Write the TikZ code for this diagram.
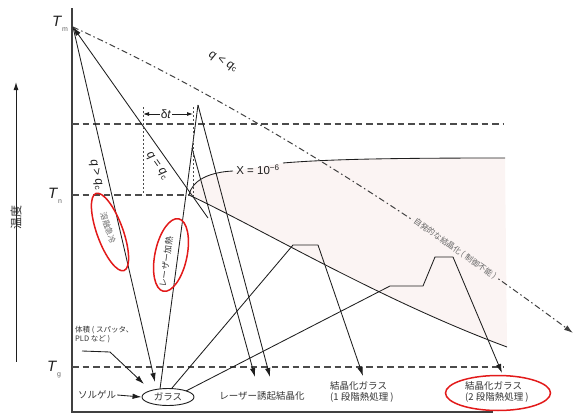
\documentclass[tikz,border=0pt]{standalone}
\usepackage{fontspec}
\setmainfont{Liberation Sans}
\newfontfamily\jp{Noto Sans CJK JP}
\usetikzlibrary{arrows.meta,shapes.geometric}
\definecolor{pinkbg}{HTML}{FBF4F3}
\definecolor{ink}{HTML}{1E1E1E}
\definecolor{txt}{HTML}{333333}
\definecolor{redc}{HTML}{E21A1A}
\begin{document}
\begin{tikzpicture}[x=1pt,y=-1pt,
 ln/.style={line width=0.85pt,draw=ink},
 ar/.style={ln,-{Latex[length=9pt,width=5.5pt]}},
 dsh/.style={line width=1.1pt,draw=ink!80,dash pattern=on 6.5pt off 4pt},
 dtl/.style={line width=0.9pt,draw=ink!80,dash pattern=on 2pt off 2pt},
 ddot/.style={line width=1pt,draw=ink!85,dash pattern=on 6pt off 3pt on 1.5pt off 3pt},
 jp/.style={font=\jp\fontsize{9.5}{11.5}\selectfont,text=txt,inner sep=1pt},
 jps/.style={font=\jp\fontsize{7.5}{9}\selectfont,text=txt,inner sep=1pt},
 jpg/.style={font=\jp\fontsize{8}{9}\selectfont,text=black!60,inner sep=1pt},
 lab/.style={font=\fontsize{12}{14}\selectfont,text=ink,inner sep=1pt},
 tl/.style={font=\fontsize{15}{15}\selectfont,text=ink,inner sep=0pt},
 redring/.style={draw=redc,line width=1.5pt,ellipse,inner sep=0pt},
]
\useasboundingbox (0,0) rectangle (576,415);

% shaded crystallization region
\fill[pinkbg] (189,195) .. controls (192,180) and (210,172) .. (233,171) -- (283,163)
  .. controls (330,159) and (400,158) .. (505,158) -- (507,347)
  .. controls (380,300) and (260,228) .. (189,195) -- cycle;

% axes
\draw[line width=1.1pt,draw=ink!85] (72,8) -- (72,412) -- (493,412);

% temperature arrow
\node[font=\jp\fontsize{12}{12}\selectfont,text=txt,rotate=90,inner sep=0pt] (temp) at (16,217) {温度};
\coordinate (ta) at (16,82);
\coordinate (tb) at (16,362);
\draw[line width=1pt,draw=ink,-{Latex[length=8pt,width=5pt]}] ([yshift=-25pt]temp.east) -- (ta);
\draw[line width=1pt,draw=ink] ([yshift=25pt]temp.west) -- (tb);

% temperature labels
\node[tl] (Tm) at (60,24) {\textit{T}\raisebox{-5pt}{\fontsize{7}{7}\selectfont\color{black!60}m}};
\node[tl] (Tn) at (55,196) {\textit{T}\raisebox{-5pt}{\fontsize{7}{7}\selectfont\color{black!60}n}};
\node[tl] (Tg) at (54,370) {\textit{T}\raisebox{-5pt}{\fontsize{7}{7}\selectfont\color{black!60}g}};

% dashed levels
\coordinate (u0) at (72,124); \coordinate (u1) at (503,124);
\coordinate (n0) at (72,195); \coordinate (n1) at (188,195);
\coordinate (g0) at (72,367); \coordinate (g1) at (504,367);
\draw[dsh] (u0) -- (u1);
\draw[dsh] (n0) -- (n1);
\draw[dsh] (g0) -- (g1);

% X = 10^-6 curve
\coordinate (nose) at (189,195);
\draw[ln] (nose) .. controls (192,180) and (210,172) .. (233,171);
\draw[ln] (283,163) .. controls (330,159) and (400,158) .. (505,158);
\draw[ln] (nose) .. controls (260,228) and (380,300) .. (507,347);
\node[lab,font=\fontsize{11.5}{13}\selectfont] (X) at (258,170) {X = 10\textsuperscript{−6}};

% points
\coordinate (tm) at (73,27);
\node[draw=ink,ellipse,line width=0.9pt,minimum width=52pt,minimum height=17pt,inner sep=0pt,jp] (glass) at (168,397) {ガラス};
\coordinate (gin) at (155,382);
\coordinate (gl) at (160,389);
\coordinate (g1s) at (172,388);
\coordinate (g2s) at (186,391);
\coordinate (P) at (198,105);
\coordinate (P2) at (192,148);
\coordinate (qe) at (208,218);

% dash-dot spontaneous crystallization
\coordinate (sp) at (573,333);
\draw[ddot,-{Latex[length=9pt,width=5.5pt]}] (tm) .. controls (225,97) and (392,199) .. (sp);
\node[jpg,rotate=-35,fill=pinkbg,inner sep=1.5pt] (spl) at (455,249) {自発的な結晶化 ( 制御不能 )};
\node[lab,rotate=-28] (qlt) at (223,62) {\textit{q} < \textit{q}\textsubscript{c}};

% melt quench
\draw[ar] (tm) -- (gin);
\node[lab,rotate=-77] (qgt) at (96,175) {\textit{q} > \textit{q}\textsubscript{c}};
\draw[ln,{Latex[length=9pt,width=5.5pt]}-] (tm) -- (qe);
\node[lab,rotate=-55] (qeq) at (157,166) {\textit{q} = \textit{q}\textsubscript{c}};

% laser heating
\coordinate (la) at (255,377);
\coordinate (lb) at (270,377);
\draw[ln] (gl) -- (P);
\draw[ar] (P) -- (lb);
\draw[ar] (P2) -- (la);

% delta t
\coordinate (d0) at (143,107); \coordinate (d0b) at (143,195);
\coordinate (d1) at (193,107); \coordinate (d1b) at (193,197);
\draw[dtl] (d0) -- (d0b);
\draw[dtl] (d1) -- (d1b);
\node[lab] (dt) at (166,114) {δ\textit{t}};
\draw[ln,line width=0.8pt,-{Latex[length=6pt,width=4pt]}] (dt.west) -- (143,114);
\draw[ln,line width=0.8pt,-{Latex[length=6pt,width=4pt]}] (dt.east) -- (193,114);

% one-step heat treatment
\coordinate (a1) at (293,245); \coordinate (a2) at (318,245); \coordinate (a3) at (363,376);
\draw[ln] (g1s) -- (a1) -- (a2);
\draw[ar] (a2) -- (a3);

% two-step heat treatment
\coordinate (b1) at (390,286); \coordinate (b2) at (423,286);
\coordinate (b3) at (435,257); \coordinate (b4) at (453,257); \coordinate (b5) at (502,373);
\draw[ln] (g2s) -- (b1) -- (b2) -- (b3) -- (b4);
\draw[ar] (b4) -- (b5);

% bottom labels
\node[jp] (sol) at (97,395) {ソルゲル};
\draw[ar] (sol.east) -- (glass.west);
\node[jps,align=left,anchor=north west] (dep) at (74,325) {体積 ( スパッタ、\\PLD など )};
\coordinate (dk) at (110,352);
\draw[ln] (82,351) -- (dk);
\draw[ar] (dk) -- (144,384);
\node[jp] (lic) at (262,396) {レーザー誘起結晶化};
\node[jp,align=left,anchor=west] (c1) at (329,392) {結晶化ガラス\\(1 段階熱処理 )};
\node[jp,align=left,anchor=west] (c2) at (464,392) {結晶化ガラス\\(2 段階熱処理 )};

% red rings and their texts
\node[jpg,rotate=-72] (mq) at (108,228) {溶融急冷};
\node[jpg,font=\jp\fontsize{8.5}{9}\selectfont,text=txt,rotate=82] (lh) at (166,262) {レーザー加熱};
\node[redring,minimum width=82pt,minimum height=26pt,rotate=-70] (r1) at (110,232) {};
\node[redring,minimum width=74pt,minimum height=32pt,rotate=78] (r2) at (171,255) {};
\node[redring,minimum width=105pt,minimum height=35pt] (r3) at (498,393) {};
\end{tikzpicture}
\end{document}
